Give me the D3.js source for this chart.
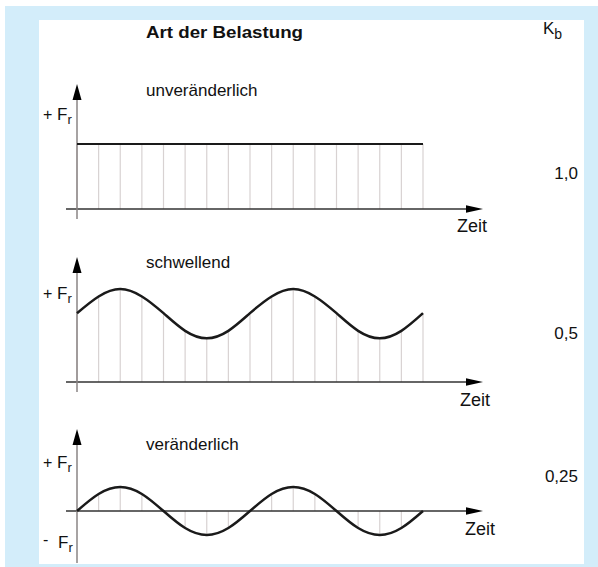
<!DOCTYPE html>
<html>
<head>
<meta charset="utf-8">
<script src="https://cdn.jsdelivr.net/npm/d3@7"></script>
<style>
  body { margin: 0; background: white; }
  text { font-family: "Liberation Sans", Arial, sans-serif; fill: #111; }
</style>
</head>
<body>
<div></div>
<script>
// data
const zeitpunkte = [0, 1, 2, 3, 4, 5, 6, 7, 8, 9, 10, 11, 12, 13, 14, 15, 16];
const unveraenderlich = [1, 1, 1, 1, 1, 1, 1, 1, 1, 1, 1, 1, 1, 1, 1, 1, 1];
const schwellend = [0.74, 0.92, 1.0, 0.92, 0.74, 0.55, 0.47, 0.55, 0.74, 0.92, 1.0, 0.92, 0.74, 0.55, 0.47, 0.55, 0.74];
const veraenderlich = [0, 0.71, 1, 0.71, 0, -0.71, -1, -0.71, 0, 0.71, 1, 0.71, 0, -0.71, -1, -0.71, 0];
const belastungsarten = ["unveränderlich", "schwellend", "veränderlich"];
const kbWerte = ["1,0", "0,5", "0,25"];

const w = 598, h = 567;
const svg = d3.select("div").append("svg")
  .attr("width", w).attr("height", h);

// frame
svg.append("rect").attr("x", 5).attr("y", 6).attr("width", 593).attr("height", 561).attr("fill", "#d3edfa");
svg.append("rect").attr("x", 39).attr("y", 20).attr("width", 545).attr("height", 544).attr("fill", "white");

// headers
svg.append("text").attr("x", 146).attr("y", 38)
  .attr("textLength", 157).attr("lengthAdjust", "spacingAndGlyphs")
  .style("font-size", "17px").style("font-weight", "bold")
  .text("Art der Belastung");
const kb = svg.append("text").attr("x", 543).attr("y", 34).style("font-size", "17px");
kb.append("tspan").text("K");
kb.append("tspan").attr("dy", 5).style("font-size", "14px").text("b");

const x = d3.scaleLinear().domain([0, 16]).range([77, 423]);

// layout of the three panels
const panels = [
  { values: unveraenderlich, domain: [0, 1], range: [209, 144], top: 84, bottom: 219,
    labelY: 96, kbY: 179, zeitX: 457, zeitY: 232, plusY: 120, minusY: null, curve: d3.curveLinear },
  { values: schwellend, domain: [0, 1], range: [382, 289], top: 257, bottom: 392,
    labelY: 268, kbY: 339, zeitX: 460, zeitY: 406, plusY: 299, minusY: null, curve: d3.curveNatural },
  { values: veraenderlich, domain: [-1, 1], range: [535, 487], top: 429, bottom: 563,
    labelY: 450, kbY: 482, zeitX: 465, zeitY: 535, plusY: 468, minusY: 548, curve: d3.curveNatural }
];

panels.forEach((p, i) => {
  const y = d3.scaleLinear().domain(p.domain).range(p.range);
  const g = svg.append("g");
  const base = y(0);

  // vertical hatch lines
  g.selectAll("line.hatch")
    .data(zeitpunkte)
    .enter().append("line")
    .attr("class", "hatch")
    .attr("x1", d => x(d)).attr("x2", d => x(d))
    .attr("y1", base).attr("y2", d => y(p.values[d]))
    .attr("stroke", "#d8d2d2").attr("stroke-width", 1.2);

  // x axis with arrow
  g.append("line").attr("x1", 66).attr("x2", 470).attr("y1", base).attr("y2", base)
    .attr("stroke", "#333").attr("stroke-width", 1.3);
  g.append("path")
    .attr("d", `M466,${base - 3.8} L483,${base} L466,${base + 3.8} Z`)
    .attr("fill", "#000");

  // y axis with arrow
  g.append("line").attr("x1", 77).attr("x2", 77).attr("y1", p.top + 12).attr("y2", p.bottom)
    .attr("stroke", "#8a8484").attr("stroke-width", 1.5);
  g.append("path")
    .attr("d", `M${77 - 4.5},${p.top + 16} L77,${p.top} L${77 + 4.5},${p.top + 16} Z`)
    .attr("fill", "#000");

  // load curve
  const line = d3.line().x(d => x(d)).y(d => y(p.values[d])).curve(p.curve);
  g.append("path")
    .datum(zeitpunkte)
    .attr("d", line)
    .attr("fill", "none")
    .attr("stroke", "#1a1a1a")
    .attr("stroke-width", i === 0 ? 2.2 : 2.5);

  // labels
  g.append("text").attr("x", 146).attr("y", p.labelY).style("font-size", "17px").text(belastungsarten[i]);
  g.append("text").attr("x", p.zeitX).attr("y", p.zeitY).style("font-size", "18px").text("Zeit");
  g.append("text").attr("x", 578).attr("y", p.kbY).attr("text-anchor", "end").style("font-size", "17px").text(kbWerte[i]);

  g.append("text").attr("x", 43).attr("y", p.plusY).style("font-size", "16px").text("+");
  const fp = g.append("text").attr("x", 57).attr("y", p.plusY).style("font-size", "17px");
  fp.append("tspan").text("F");
  fp.append("tspan").attr("dy", 4).style("font-size", "13px").text("r");
  if (p.minusY) {
    g.append("text").attr("x", 43).attr("y", p.minusY - 3).style("font-size", "16px").text("-");
    const fm = g.append("text").attr("x", 58).attr("y", p.minusY).style("font-size", "17px");
    fm.append("tspan").text("F");
    fm.append("tspan").attr("dy", 4).style("font-size", "13px").text("r");
  }
});
</script>
</body>
</html>
